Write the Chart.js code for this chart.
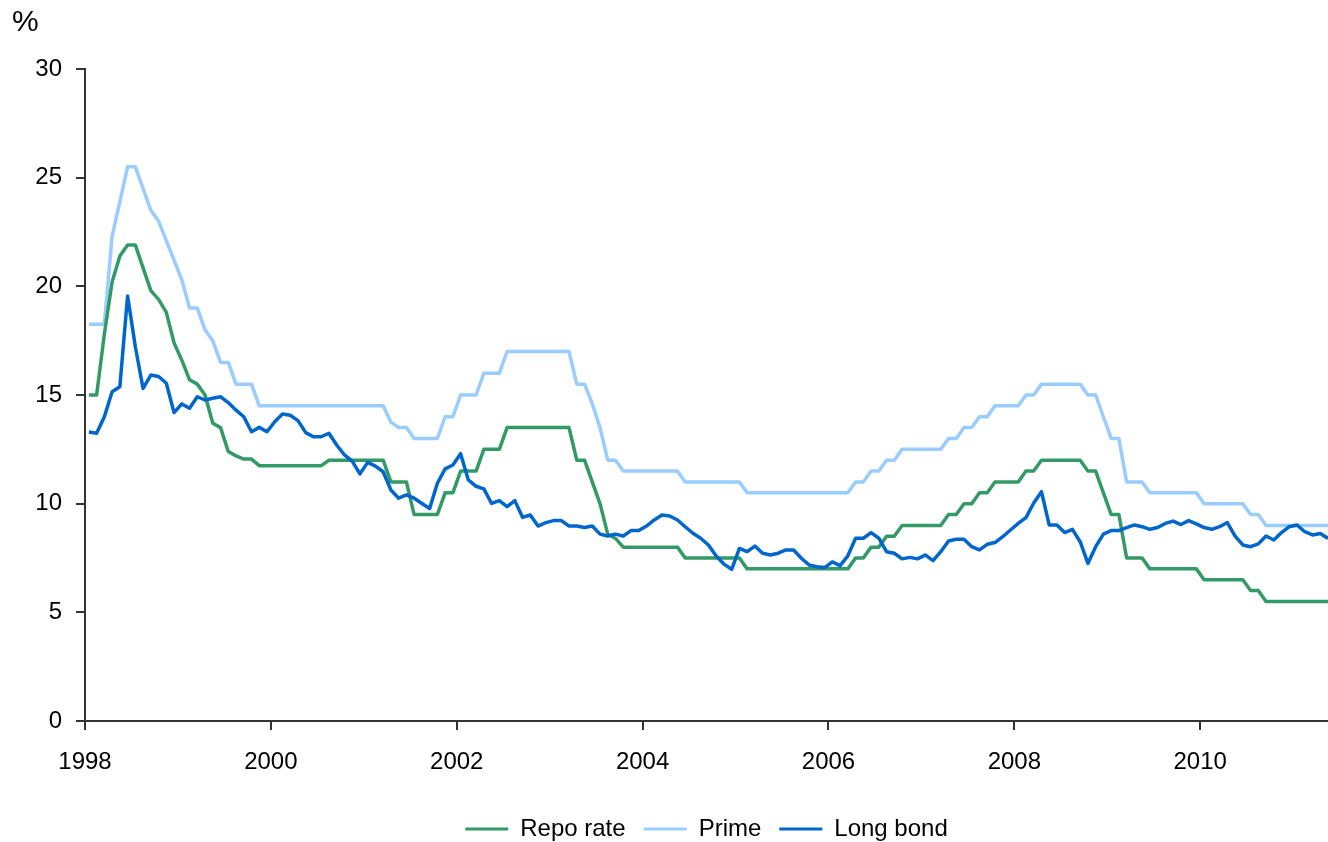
<!DOCTYPE html>
<html>
<head>
<meta charset="utf-8">
<script src="https://cdn.jsdelivr.net/npm/chart.js@4.4.1/dist/chart.umd.min.js"></script>
<style>
  html, body { margin: 0; padding: 0; background: #fff; }
  #wrap { position: relative; width: 1328px; height: 842px; }
  #unit { position: absolute; left: 12px; top: 6px; font: 30px "Liberation Sans", Arial, sans-serif; line-height: 1; color: #000; }
</style>
</head>
<body>
<div id="wrap">
  <canvas id="rates" width="1328" height="842"></canvas>
  <div id="unit">%</div>
</div>
<script>
// monthly data, Jan 1998 - May 2011
var startYear = 1998
var yearTicks = [1998, 2000, 2002, 2004, 2006, 2008, 2010]

var repoRate = [
  15.0, 15.0, 17.8, 20.2, 21.4, 21.9, 21.9, 20.85, 19.8, 19.4, 18.8, 17.4,
  16.6, 15.7, 15.5, 15.0, 13.7, 13.5, 12.4, 12.2, 12.05, 12.05, 11.75, 11.75,
  11.75, 11.75, 11.75, 11.75, 11.75, 11.75, 11.75, 12.0, 12.0, 12.0, 12.0, 12.0,
  12.0, 12.0, 12.0, 11.0, 11.0, 11.0, 9.5, 9.5, 9.5, 9.5, 10.5, 10.5,
  11.5, 11.5, 11.5, 12.5, 12.5, 12.5, 13.5, 13.5, 13.5, 13.5, 13.5, 13.5,
  13.5, 13.5, 13.5, 12.0, 12.0, 11.0, 10.0, 8.6, 8.4, 8.0, 8.0, 8.0,
  8.0, 8.0, 8.0, 8.0, 8.0, 7.5, 7.5, 7.5, 7.5, 7.5, 7.5, 7.5,
  7.5, 7.0, 7.0, 7.0, 7.0, 7.0, 7.0, 7.0, 7.0, 7.0, 7.0, 7.0,
  7.0, 7.0, 7.0, 7.5, 7.5, 8.0, 8.0, 8.5, 8.5, 9.0, 9.0, 9.0,
  9.0, 9.0, 9.0, 9.5, 9.5, 10.0, 10.0, 10.5, 10.5, 11.0, 11.0, 11.0,
  11.0, 11.5, 11.5, 12.0, 12.0, 12.0, 12.0, 12.0, 12.0, 11.5, 11.5, 10.5,
  9.5, 9.5, 7.5, 7.5, 7.5, 7.0, 7.0, 7.0, 7.0, 7.0, 7.0, 7.0,
  6.5, 6.5, 6.5, 6.5, 6.5, 6.5, 6.0, 6.0, 5.5, 5.5, 5.5, 5.5,
  5.5, 5.5, 5.5, 5.5, 5.5
]

var prime = [
  18.25, 18.25, 18.25, 22.3, 23.9, 25.5, 25.5, 24.5, 23.5, 23.0, 22.1, 21.2,
  20.3, 19.0, 19.0, 18.0, 17.5, 16.5, 16.5, 15.5, 15.5, 15.5, 14.5, 14.5,
  14.5, 14.5, 14.5, 14.5, 14.5, 14.5, 14.5, 14.5, 14.5, 14.5, 14.5, 14.5,
  14.5, 14.5, 14.5, 13.75, 13.5, 13.5, 13.0, 13.0, 13.0, 13.0, 14.0, 14.0,
  15.0, 15.0, 15.0, 16.0, 16.0, 16.0, 17.0, 17.0, 17.0, 17.0, 17.0, 17.0,
  17.0, 17.0, 17.0, 15.5, 15.5, 14.6, 13.5, 12.0, 12.0, 11.5, 11.5, 11.5,
  11.5, 11.5, 11.5, 11.5, 11.5, 11.0, 11.0, 11.0, 11.0, 11.0, 11.0, 11.0,
  11.0, 10.5, 10.5, 10.5, 10.5, 10.5, 10.5, 10.5, 10.5, 10.5, 10.5, 10.5,
  10.5, 10.5, 10.5, 11.0, 11.0, 11.5, 11.5, 12.0, 12.0, 12.5, 12.5, 12.5,
  12.5, 12.5, 12.5, 13.0, 13.0, 13.5, 13.5, 14.0, 14.0, 14.5, 14.5, 14.5,
  14.5, 15.0, 15.0, 15.5, 15.5, 15.5, 15.5, 15.5, 15.5, 15.0, 15.0, 14.0,
  13.0, 13.0, 11.0, 11.0, 11.0, 10.5, 10.5, 10.5, 10.5, 10.5, 10.5, 10.5,
  10.0, 10.0, 10.0, 10.0, 10.0, 10.0, 9.5, 9.5, 9.0, 9.0, 9.0, 9.0,
  9.0, 9.0, 9.0, 9.0, 9.0
]

var longBond = [
  13.3, 13.24, 14.0, 15.15, 15.38, 19.56, 17.22, 15.3, 15.92, 15.85, 15.54, 14.19,
  14.59, 14.39, 14.92, 14.77, 14.85, 14.92, 14.65, 14.3, 14.0, 13.31, 13.51, 13.31,
  13.77, 14.13, 14.07, 13.82, 13.27, 13.08, 13.08, 13.24, 12.7, 12.24, 11.96, 11.37,
  11.9, 11.73, 11.47, 10.63, 10.25, 10.4, 10.25, 10.01, 9.78, 10.94, 11.6, 11.78,
  12.3, 11.09, 10.8, 10.68, 10.01, 10.14, 9.86, 10.14, 9.37, 9.48, 8.97, 9.13,
  9.22, 9.22, 8.97, 8.97, 8.9, 8.97, 8.6, 8.51, 8.6, 8.51, 8.76, 8.76,
  8.97, 9.25, 9.48, 9.43, 9.25, 8.94, 8.64, 8.41, 8.1, 7.59, 7.22, 6.98,
  7.94, 7.79, 8.05, 7.72, 7.64, 7.72, 7.87, 7.87, 7.49, 7.18, 7.1, 7.06,
  7.32, 7.15, 7.6, 8.41, 8.41, 8.67, 8.41, 7.79, 7.72, 7.46, 7.53, 7.46,
  7.64, 7.38, 7.79, 8.28, 8.36, 8.36, 8.02, 7.87, 8.13, 8.21, 8.48, 8.79,
  9.09, 9.36, 10.03, 10.55, 9.02, 9.02, 8.67, 8.82, 8.25, 7.25, 8.02, 8.6,
  8.76, 8.76, 8.9, 9.02, 8.94, 8.82, 8.9, 9.09, 9.2, 9.04, 9.22, 9.07,
  8.9, 8.82, 8.94, 9.13, 8.51, 8.1, 8.02, 8.15, 8.51, 8.33, 8.67, 8.94,
  9.02, 8.71, 8.56, 8.63, 8.4
]

// each monthly value sits at the middle of its month
var monthPos = repoRate.map(function (v, i) { return startYear + (i + 0.5) / 12 })

function toPoints(vals) {
  return vals.map(function (v, i) { return {x: monthPos[i], y: v} })
}

var fontFam = '"Liberation Sans", Arial, sans-serif'
var axisCol = '#333333'

new Chart(document.getElementById('rates'), {
  type: 'line',
  data: {
    datasets: [
      {label: 'Repo rate', data: toPoints(repoRate), borderColor: '#339966', backgroundColor: '#339966', order: 2},
      {label: 'Prime', data: toPoints(prime), borderColor: '#99ccff', backgroundColor: '#99ccff', order: 3},
      {label: 'Long bond', data: toPoints(longBond), borderColor: '#0066cc', backgroundColor: '#0066cc', order: 1}
    ]
  },
  options: {
    responsive: false,
    animation: false,
    layout: {padding: {top: 69, right: 0, left: 0, bottom: -9}},
    elements: {
      line: {borderWidth: 3.5, tension: 0, borderJoinStyle: 'round'},
      point: {radius: 0}
    },
    scales: {
      x: {
        type: 'linear',
        min: startYear,
        max: monthPos[monthPos.length - 1],
        afterBuildTicks: function (scale) {
          scale.ticks = yearTicks.map(function (y) { return {value: y} })
        },
        afterFit: function (scale) { scale.height = 78 },
        ticks: {
          color: '#000',
          font: {family: fontFam, size: 24},
          padding: 18,
          maxRotation: 0,
          autoSkip: false,
          callback: function (v) { return String(v) }
        },
        grid: {display: true, drawOnChartArea: false, drawTicks: true, tickLength: 9, color: axisCol, lineWidth: 2},
        border: {display: true, color: axisCol, width: 2}
      },
      y: {
        min: 0,
        max: 30,
        afterFit: function (scale) { scale.width = 85 },
        ticks: {
          stepSize: 5,
          color: '#000',
          font: {family: fontFam, size: 24},
          padding: 14
        },
        grid: {display: true, drawOnChartArea: false, drawTicks: true, tickLength: 9, color: axisCol, lineWidth: 2},
        border: {display: true, color: axisCol, width: 2}
      }
    },
    plugins: {
      tooltip: {enabled: false},
      legend: {
        position: 'bottom',
        fullSize: false,
        labels: {
          color: '#000',
          font: {family: fontFam, size: 24},
          boxWidth: 43,
          boxHeight: 3,
          padding: 18,
          sort: function (a, b) { return a.datasetIndex - b.datasetIndex },
          generateLabels: function (chart) {
            var items = Chart.defaults.plugins.legend.labels.generateLabels(chart)
            items.forEach(function (it) { it.lineWidth = 0 })
            return items
          }
        }
      }
    }
  }
})
</script>
</body>
</html>
